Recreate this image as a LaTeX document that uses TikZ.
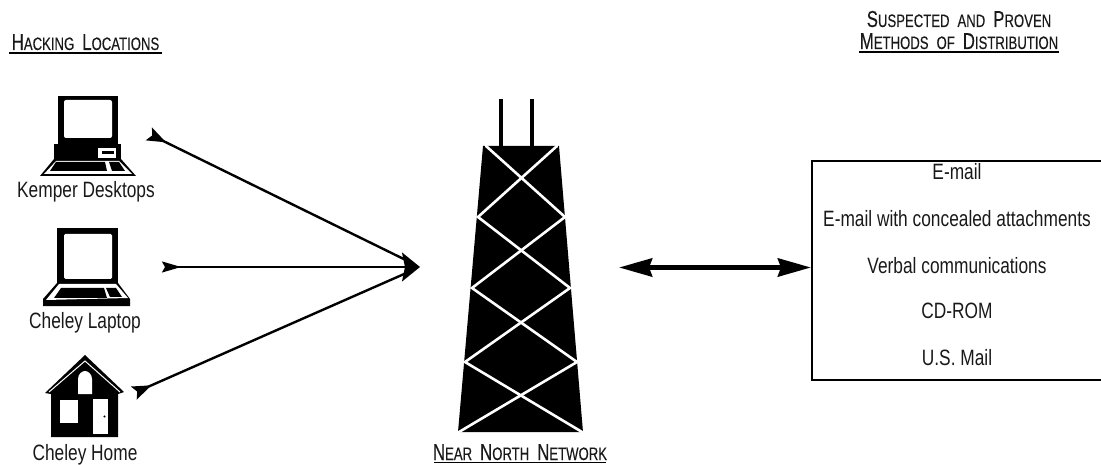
\documentclass[tikz,border=0pt]{standalone}
\usepackage{fontspec}
\setmainfont[FakeStretch=0.78]{Liberation Sans}
\newfontfamily\headfont[FakeStretch=0.73,FakeBold=0.25]{Liberation Sans}
\usetikzlibrary{arrows.meta,calc}
\tikzset{
  lbl/.style={inner sep=0pt,font=\fontsize{22.2}{22.2}\selectfont,text=black!90},
  hdr/.style={inner sep=0pt,align=center,text=black!90},
  flow/.style={line width=2.4pt,black,{Stealth[reversed,length=19pt,width=14pt,inset=3.5pt]}-,shorten >=8pt},
  flowh/.style={line width=1.6pt,black,{Stealth[reversed,length=19pt,width=11pt,inset=3pt]}-{Stealth[length=18pt,width=29pt,inset=3pt]}},
  both/.style={line width=5pt,{Stealth[length=33pt,width=18pt,inset=3pt]}-{Stealth[length=33pt,width=18pt,inset=3pt]}},
  ink/.style={fill=black,draw=none},
  paper/.style={fill=white,draw=none},
  girder/.style={draw=white,line width=2.6pt},
}
\newcommand{\SC}[2]{{\headfont\fontsize{23}{23}\selectfont #1}{\headfont\fontsize{18}{18}\selectfont #2}}
\newcommand{\WS}{\hspace{8pt}}
\begin{document}
\begin{tikzpicture}[x=1pt,y=-1pt]
\useasboundingbox (0,0) rectangle (1101,465);
% headings
\node[hdr,anchor=base] (hloc) at (85.5,50) {\SC{H}{ACKING}\WS\SC{L}{OCATIONS}};
\draw[line width=1.2pt] (9,53) -- (162,53);
\node[hdr,anchor=base] (hsus) at (959,27) {\SC{S}{USPECTED}\WS\SC{}{AND}\WS\SC{P}{ROVEN}};
\node[hdr,anchor=base] (hmet) at (959,49) {\SC{M}{ETHODS}\WS\SC{}{OF}\WS\SC{D}{ISTRIBUTION}};
\draw[line width=1.2pt] (859,52) -- (1059,52);
\node[hdr,anchor=base] (hnet) at (520,460) {\SC{N}{EAR}\WS\SC{N}{ORTH}\WS\SC{N}{ETWORK}};
\draw[line width=1.2pt] (434,462.5) -- (606,462.5);
% desktop
\fill[ink] (58,96) rectangle (118,144);
\fill[paper,rounded corners=2pt] (64,100) rectangle (112,138);
\fill[ink] (54,144) rectangle (121,160);
\fill[paper] (98,148) rectangle (116,158);
\fill[ink] (102,151.5) rectangle (114,154.5);
\fill[ink] (54,159) -- (121,159) -- (136,176) -- (40,176) -- cycle;
\fill[paper] (56,161) -- (119,161) -- (132,174) -- (44,174) -- cycle;
\fill[ink] (56,162) -- (105,162) -- (107,171) -- (50,171) -- cycle;
\fill[ink] (109,162) -- (119,162) -- (125,171) -- (112,171) -- cycle;
\node[lbl,anchor=base] (kemper) at (86,198) {Kemper Desktops};
% laptop
\fill[ink] (57,228) rectangle (118,284);
\fill[paper,rounded corners=1.5pt] (64,234) rectangle (112,279);
\fill[ink] (57,283) -- (118,283) -- (130,299) -- (130,306) -- (43,306) -- (43,299) -- cycle;
\fill[paper] (59,284) -- (116,284) -- (128,298) -- (46,300) -- cycle;
\fill[ink] (61,288) -- (104,288) -- (107,298) -- (54,298) -- cycle;
\fill[ink] (106,288) -- (116,288) -- (122,297) -- (110,297) -- cycle;
\node[lbl,anchor=base] (laptop) at (85,328) {Cheley Laptop};
% house
\fill[ink] (85,355) -- (124,392) -- (118,394) -- (118,437) -- (51,437) -- (51,394) -- (45,393) -- cycle;
\draw[white,line width=1pt] (49,392) -- (85,361) -- (120,392);
\fill[paper] (78,394) -- (78,379) .. controls (78,374) and (82,371) .. (85,371) .. controls (88,371) and (92,374) .. (92,379) -- (92,394) -- cycle;
\fill[paper] (60,400) rectangle (78,423);
\fill[paper] (93,399) rectangle (108,434);
\fill[ink] (104.5,416.5) circle (1.2);
\node[lbl,anchor=base] (home) at (85,460) {Cheley Home};
% tower
\fill[ink] (499,99) rectangle (503,147);
\fill[ink] (530,99) rectangle (534,147);
\coordinate (L0) at (486,146); \coordinate (R0) at (557,146);
\coordinate (L1) at (478,217); \coordinate (R1) at (565,217);
\coordinate (L2) at (472,288); \coordinate (R2) at (570,288);
\coordinate (L3) at (465,362); \coordinate (R3) at (577,362);
\coordinate (L4) at (459,432); \coordinate (R4) at (582,432);
\fill[ink] (486,146) -- (557,146) -- (559,146) -- (583,432) -- (458,432) -- (483,146) -- cycle;
\draw[girder,line cap=round] (L0) -- (R1) -- (L2) -- (R3) -- (L4);
\draw[girder,line cap=round] (R0) -- (L1) -- (R2) -- (L3) -- (R4);
\coordinate (hub) at (420,267);
\coordinate (ktail) at (149,134);
\coordinate (ltail) at (162,267);
\coordinate (htail) at (134,393);
\draw[flow] (ktail) -- (hub);
\draw[flowh] (ltail) -- (hub);
\draw[flow] (htail) -- (hub);
% box
\node[draw=black,line width=1.8pt,minimum width=290pt,minimum height=219pt,inner sep=0pt,anchor=north west] (box) at (811,160) {};
\coordinate (tl) at (619,267.5);
\draw[both] (tl) -- (box.west |- tl);
\node[lbl,anchor=base] (m1) at (957,180) {E-mail};
\node[lbl,anchor=base] (m2) at (957,227) {E-mail with concealed attachments};
\node[lbl,anchor=base] (m3) at (957,273) {Verbal communications};
\node[lbl,anchor=base] (m4) at (957,318) {CD-ROM};
\node[lbl,anchor=base] (m5) at (957,365) {U.S. Mail};
\end{tikzpicture}
\end{document}
